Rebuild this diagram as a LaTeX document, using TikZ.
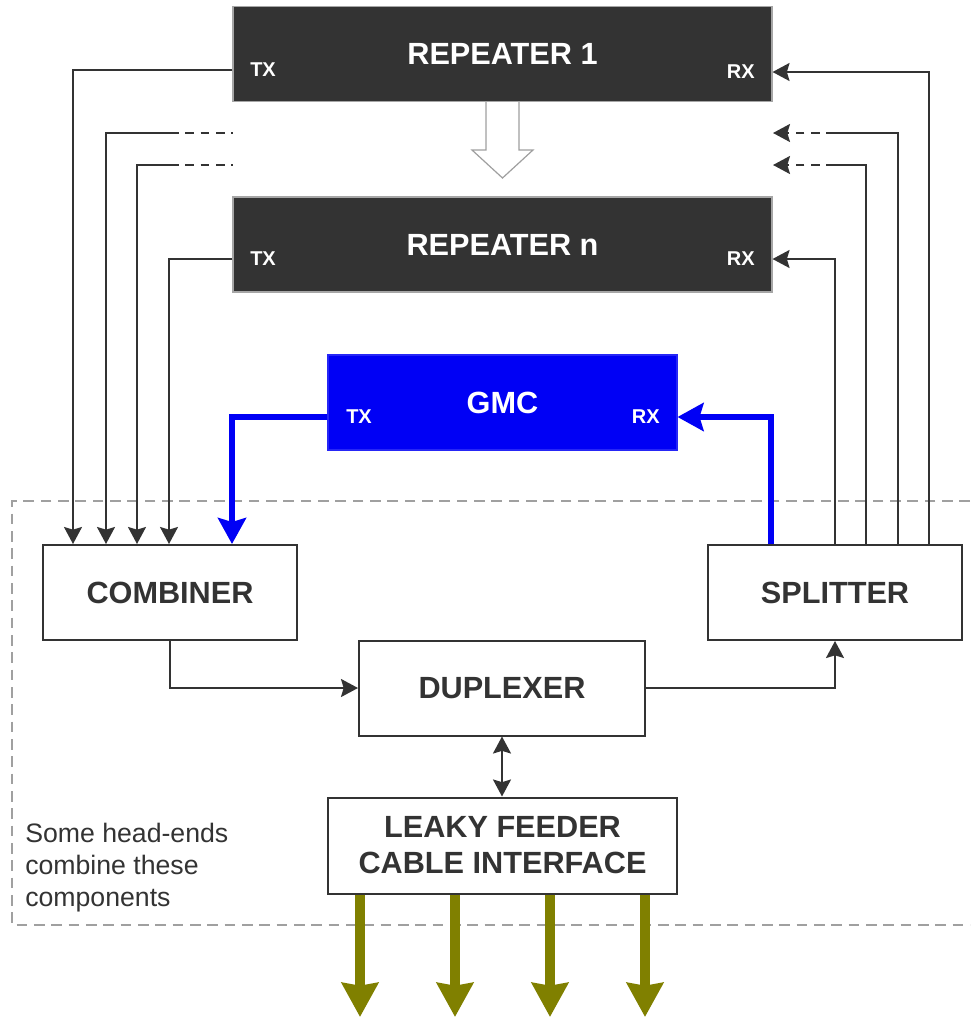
\documentclass[tikz,border=0pt]{standalone}
\usepackage{fontspec}
\setmainfont{Liberation Sans}
\usetikzlibrary{arrows.meta,calc}
\definecolor{dk}{HTML}{333333}
\definecolor{gmcblue}{RGB}{0,0,245}
\definecolor{olivec}{HTML}{808000}
\definecolor{dashgray}{HTML}{A0A0A0}
\begin{document}
\begin{tikzpicture}[x=0.75pt,y=-0.75pt,
  bigfont/.style={font=\fontsize{23}{27}\selectfont\bfseries},
  wbox/.style={draw=dk,line width=1.5pt,fill=white,text=dk,bigfont,inner sep=0pt,align=center,minimum height=71.25pt},
  repbox/.style={draw=gray!70,line width=0.8pt,fill=dk,text=white,bigfont,inner sep=0pt,minimum width=404.25pt,minimum height=71.25pt},
  gmcbox/.style={draw=gmcblue!85!white,line width=0.8pt,fill=gmcblue,text=white,bigfont,inner sep=0pt,minimum width=261.75pt,minimum height=71.25pt},
  portlbl/.style={text=white,font=\fontsize{15}{18}\selectfont\bfseries,inner sep=0pt},
  conn/.style={draw=dk,line width=1.5pt,-{Stealth[length=12.75pt,width=13.5pt,inset=2pt]}},
  plainline/.style={draw=dk,line width=1.5pt},
  dline/.style={draw=dk,line width=1.5pt,dash pattern=on 6.5pt off 5pt},
  bconn/.style={draw=gmcblue,line width=4.5pt,-{Stealth[length=19.5pt,width=21pt,inset=3pt]}},
  oconn/.style={draw=olivec,line width=7.5pt,-{Stealth[length=25.5pt,width=27pt,inset=2pt]}},
  note/.style={text=dk,font=\fontsize{20}{24}\selectfont,align=left,inner sep=0pt}
]
\useasboundingbox (0,0) rectangle (977,1018);

% dashed grouping outline
\draw[dashgray,line width=1.2pt,dash pattern=on 8pt off 5pt] (970,501) -- (12,501) -- (12,925) -- (970,925);

% repeaters
\node[repbox] (rep1) at (502.5,54) {REPEATER 1};
\node[repbox] (repn) at (502.5,244.5) {REPEATER n};
\node[portlbl,anchor=west] (r1tx) at (250,70) {TX};
\node[portlbl,anchor=east] (r1rx) at (755,72) {RX};
\node[portlbl,anchor=west] (rntx) at (250,259) {TX};
\node[portlbl,anchor=east] (rnrx) at (755,259) {RX};

% hollow block arrow between repeaters
\draw[draw=gray!75,line width=0.9pt,fill=white] (rep1.south -| 486,0) -- (486,150) -- (472,150) -- (502.5,178) -- (533,150) -- (519,150) -- (rep1.south -| 519,0);

% GMC
\node[gmcbox] (gmc) at (502.5,402.5) {GMC};
\node[portlbl,anchor=west] (gtx) at (346,417) {TX};
\node[portlbl,anchor=east] (grx) at (660,417) {RX};

% lower boxes
\node[wbox,minimum width=190.5pt] (comb) at (170,592.5) {COMBINER};
\node[wbox,minimum width=190.5pt] (spl) at (835,592.5) {SPLITTER};
\node[wbox,minimum width=214.5pt] (dup) at (502,688) {DUPLEXER};
\node[wbox,minimum width=261.75pt,minimum height=72pt] (leaky) at (502.5,845.5) {LEAKY FEEDER\\CABLE INTERFACE};

\node[note,anchor=west] (nt) at (25,868) {Some head-ends\\combine these\\components};

% left side (TX -> combiner)
\draw[conn] (rep1.west |- r1tx) -| ($(comb.north west)+(31,0)$);
\coordinate (l1) at (170,133);
\coordinate (l1e) at (233,133);
\coordinate (l2) at (170,165);
\coordinate (l2e) at (233,165);
\draw[conn] (l1) -| ($(comb.north west)+(64,0)$);
\draw[dline] (l1) -- (l1e);
\draw[conn] (l2) -| ($(comb.north west)+(95,0)$);
\draw[dline] (l2) -- (l2e);
\draw[conn] (repn.west |- rntx) -| ($(comb.north west)+(127,0)$);
\draw[bconn] (gmc.west |- gtx) -| ($(comb.north west)+(190,0)$);

% right side (splitter -> RX)
\draw[conn] ($(spl.north west)+(222,0)$) |- (rep1.east |- r1rx);
\coordinate (q1) at (835,133);
\coordinate (q1e) at (773,133);
\coordinate (q2) at (835,165);
\coordinate (q2e) at (773,165);
\draw[plainline] ($(spl.north west)+(191,0)$) |- (q1);
\draw[dline,-{Stealth[length=12.75pt,width=13.5pt,inset=2pt]}] (q1) -- (q1e);
\draw[plainline] ($(spl.north west)+(159,0)$) |- (q2);
\draw[dline,-{Stealth[length=12.75pt,width=13.5pt,inset=2pt]}] (q2) -- (q2e);
\draw[conn] (spl.north) |- (repn.east |- rnrx);
\draw[bconn] ($(spl.north west)+(64,0)$) |- (gmc.east |- grx);

% combiner / duplexer / splitter
\draw[conn] (comb.south) |- (dup.west);
\draw[conn] (dup.east) -| (spl.south);
\draw[draw=dk,line width=1.5pt,{Stealth[length=12.75pt,width=13.5pt,inset=2pt]}-{Stealth[length=12.75pt,width=13.5pt,inset=2pt]}] (dup.south) -- (dup.south |- leaky.north);

% leaky feeder outputs
\coordinate (o1) at (360,1017);
\coordinate (o2) at (455,1017);
\coordinate (o3) at (550,1017);
\coordinate (o4) at (645,1017);
\draw[oconn] (leaky.south -| o1) -- (o1);
\draw[oconn] (leaky.south -| o2) -- (o2);
\draw[oconn] (leaky.south -| o3) -- (o3);
\draw[oconn] (leaky.south -| o4) -- (o4);
\end{tikzpicture}
\end{document}
